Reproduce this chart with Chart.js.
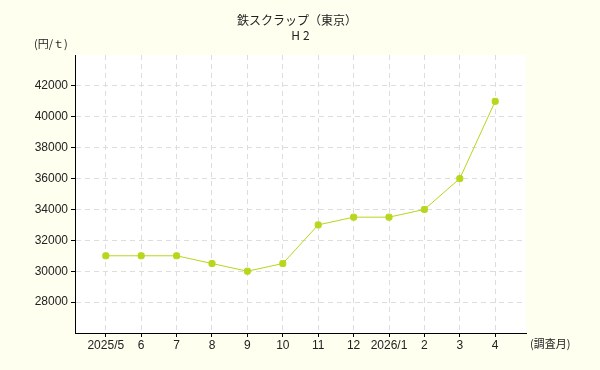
<!DOCTYPE html>
<html>
<head>
<meta charset="utf-8">
<script src="https://cdn.jsdelivr.net/npm/chart.js@4"></script>
<style>
  html, body { margin: 0; padding: 0; background: #fffff0; }
  #wrap { width: 600px; height: 370px; }
</style>
</head>
<body>
<div id="wrap"><canvas id="myChart"></canvas></div>
<script>
const months = ["2025/5", "6", "7", "8", "9", "10", "11", "12", "2026/1", "2", "3", "4"];
const prices = [31000, 31000, 31000, 30500, 30000, 30500, 33000, 33500, 33500, 34000, 36000, 41000];
const yTicks = [28000, 30000, 32000, 34000, 36000, 38000, 40000, 42000];

const chartTitle = "鉄スクラップ（東京）";
const chartSubtitle = "H2";
const yTitle = "(円/ｔ)";
const xTitle = "(調査月)";

const FONT = "'Noto Sans CJK JP', 'Liberation Sans', sans-serif";
const TICK_FONT = "'Liberation Sans', sans-serif";

// white plot area + texts around it
const decor = {
  id: "decor",
  beforeDraw(chart) {
    const { ctx, chartArea: a } = chart;
    ctx.save();
    ctx.fillStyle = "#ffffff";
    ctx.fillRect(a.left, a.top, a.right - a.left, a.bottom - a.top);
    ctx.restore();
  },
  afterDraw(chart) {
    const ctx = chart.ctx;
    ctx.save();
    ctx.fillStyle = "#222";
    ctx.font = "12px " + FONT;
    ctx.textAlign = "center";
    ctx.textBaseline = "middle";
    ctx.fillText(chartTitle, 297, 20);
    ctx.letterSpacing = "3px";
    ctx.fillText(chartSubtitle, 302, 35);
    ctx.letterSpacing = "0px";
    ctx.font = "11px " + FONT;
    ctx.textAlign = "left";
    ctx.fillText(yTitle, 34, 44);
    ctx.fillText(xTitle, 530, 344);
    ctx.restore();
  }
};

new Chart(document.getElementById("myChart"), {
  type: "line",
  data: {
    datasets: [
      {
        data: prices.map((v, i) => ({ x: i, y: v })),
        borderColor: "#b8d61c",
        backgroundColor: "#b8d61c",
        borderWidth: 1,
        pointStyle: "rectRounded",
        pointRadius: 3.5,
        pointHoverRadius: 3.5,
        fill: false,
        tension: 0
      }
    ]
  },
  options: {
    responsive: true,
    maintainAspectRatio: false,
    animation: false,
    layout: { padding: { top: 55, right: 74, bottom: 0, left: 0 } },
    plugins: {
      legend: { display: false },
      tooltip: { enabled: false }
    },
    scales: {
      x: {
        type: "linear",
        min: -0.87,
        max: 11.87,
        afterBuildTicks: s => { s.ticks = months.map((_, i) => ({ value: i })); },
        afterFit: s => { s.height = 37; },
        ticks: {
          autoSkip: false,
          maxRotation: 0,
          padding: 1,
          color: "#222",
          font: { family: TICK_FONT, size: 12 },
          callback: v => months[v]
        },
        grid: {
          color: "#dddddd",
          tickColor: "#000",
          tickLength: 4,
          tickBorderDash: [],
          drawTicks: true
        },
        border: { color: "#000", width: 1, dash: [5, 4] }
      },
      y: {
        min: 26000,
        max: 44000,
        afterBuildTicks: s => { s.ticks = yTicks.map(v => ({ value: v })); },
        afterFit: s => { s.width = 75; },
        ticks: {
          padding: 3,
          color: "#222",
          font: { family: TICK_FONT, size: 12 },
          callback: v => String(v)
        },
        grid: {
          color: "#dddddd",
          tickColor: "#000",
          tickLength: 4,
          tickBorderDash: [],
          drawTicks: true
        },
        border: { color: "#000", width: 1, dash: [5, 4] }
      }
    }
  },
  plugins: [decor]
});
</script>
</body>
</html>
